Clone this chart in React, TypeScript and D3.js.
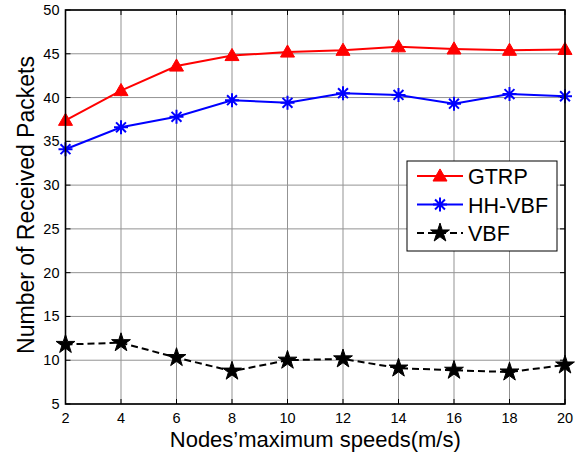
import React from 'react'
import * as d3 from 'd3'

const speeds = [2, 4, 6, 8, 10, 12, 14, 16, 18, 20]
const gtrp = [37.4, 40.8, 43.6, 44.8, 45.2, 45.4, 45.8, 45.55, 45.4, 45.5]
const hhvbf = [34.1, 36.6, 37.8, 39.7, 39.4, 40.5, 40.3, 39.3, 40.4, 40.15]
const vbf = [11.8, 12.0, 10.3, 8.75, 10.0, 10.15, 9.1, 8.85, 8.65, 9.45]
const xTicks = [2, 4, 6, 8, 10, 12, 14, 16, 18, 20]
const yTicks = [5, 10, 15, 20, 25, 30, 35, 40, 45, 50]

const FONT = '"Liberation Sans", Arial, Helvetica, sans-serif'

// MATLAB-style '*' marker: plus + cross
function asteriskPath(r: number) {
  const d = r * 0.707
  return `M${-r},0L${r},0M0,${-r}L0,${r}M${-d},${-d}L${d},${d}M${-d},${d}L${d},${-d}`
}

export default function App() {
  const width = 584
  const height = 455
  const margin = { top: 10, right: 19, bottom: 51, left: 65.5 }
  const innerW = width - margin.left - margin.right
  const innerH = height - margin.top - margin.bottom

  const x = d3.scaleLinear().domain([2, 20]).range([0, innerW])
  const y = d3.scaleLinear().domain([5, 50]).range([innerH, 0])

  const line = d3.line<number>()
    .x((_, i) => x(speeds[i]))
    .y(d => y(d))

  const triangle = d3.symbol(d3.symbolTriangle, 85)()
  const star = d3.symbol(d3.symbolStar, 110)()
  const tick = 5

  const series = [
    { name: 'GTRP', data: gtrp, color: '#ff0000', dash: null as string | null, marker: 'tri' },
    { name: 'HH-VBF', data: hhvbf, color: '#0000ff', dash: null, marker: 'ast' },
    { name: 'VBF', data: vbf, color: '#000000', dash: '7,4', marker: 'star' },
  ]

  const drawMarker = (m: string, color: string, key: string | number, tx: number, ty: number) => {
    if (m === 'tri') return <path key={key} d={triangle!} transform={`translate(${tx},${ty + 1})`} fill={color} stroke={color} strokeWidth={1} />
    if (m === 'ast') return <path key={key} d={asteriskPath(7)} transform={`translate(${tx},${ty})`} fill="none" stroke={color} strokeWidth={2} />
    return <path key={key} d={star!} transform={`translate(${tx},${ty})`} fill={color} stroke={color} strokeWidth={1} />
  }

  const legend = { x: 407 - margin.left, y: 161 - margin.top, w: 150, h: 90 }

  return (
    <svg width={width} height={height} style={{ position: 'absolute', left: 0, top: 0, background: '#fff' }} fontFamily={FONT}>
      <g transform={`translate(${margin.left},${margin.top})`}>
        {/* grid */}
        {xTicks.map(t => (
          <line key={'gx' + t} x1={x(t)} x2={x(t)} y1={0} y2={innerH} stroke="#939393" strokeWidth={1} />
        ))}
        {yTicks.map(t => (
          <line key={'gy' + t} x1={0} x2={innerW} y1={y(t)} y2={y(t)} stroke="#939393" strokeWidth={1} />
        ))}
        {/* ticks inward on all sides */}
        {xTicks.map(t => (
          <g key={'tx' + t} stroke="#000" strokeWidth={1}>
            <line x1={x(t)} x2={x(t)} y1={innerH} y2={innerH - tick} />
            <line x1={x(t)} x2={x(t)} y1={0} y2={tick} />
          </g>
        ))}
        {yTicks.map(t => (
          <g key={'ty' + t} stroke="#000" strokeWidth={1}>
            <line x1={0} x2={tick} y1={y(t)} y2={y(t)} />
            <line x1={innerW} x2={innerW - tick} y1={y(t)} y2={y(t)} />
          </g>
        ))}
        {/* series */}
        {series.map(s => (
          <g key={s.name}>
            <path d={line(s.data)!} fill="none" stroke={s.color} strokeWidth={2} strokeDasharray={s.dash ?? undefined} />
            {s.data.map((v, i) => drawMarker(s.marker, s.color, i, x(speeds[i]), y(v)))}
          </g>
        ))}
        {/* frame */}
        <rect x={0} y={0} width={innerW} height={innerH} fill="none" stroke="#000" strokeWidth={1.6} />
        {/* tick labels */}
        {xTicks.map(t => (
          <text key={'lx' + t} x={x(t)} y={innerH + 19} textAnchor="middle" fontSize={14.5} fill="#000">{t}</text>
        ))}
        {yTicks.map(t => (
          <text key={'ly' + t} x={-6} y={y(t) + 5} textAnchor="end" fontSize={14.5} fill="#000">{t}</text>
        ))}
        {/* axis labels */}
        <text x={innerW / 2} y={innerH + 43} textAnchor="middle" fontSize={22} fill="#000">Nodes’maximum speeds(m/s)</text>
        <text transform={`translate(${-31.5},${innerH / 2 - 2}) rotate(-90)`} textAnchor="middle" fontSize={23} fill="#000">Number of Received Packets</text>
        {/* legend */}
        <g transform={`translate(${legend.x},${legend.y})`}>
          <rect x={0} y={0} width={legend.w} height={legend.h} fill="#fff" stroke="#000" strokeWidth={1} />
          {series.map((s, i) => {
            const ly = 15 + i * 28.5
            return (
              <g key={'lg' + s.name}>
                <line x1={10} x2={56} y1={ly} y2={ly} stroke={s.color} strokeWidth={2} strokeDasharray={s.dash ?? undefined} />
                {drawMarker(s.marker, s.color, 'm', 33, ly)}
                <text x={61} y={ly + 8} fontSize={21.5} fill="#000">{s.name}</text>
              </g>
            )
          })}
        </g>
      </g>
    </svg>
  )
}
